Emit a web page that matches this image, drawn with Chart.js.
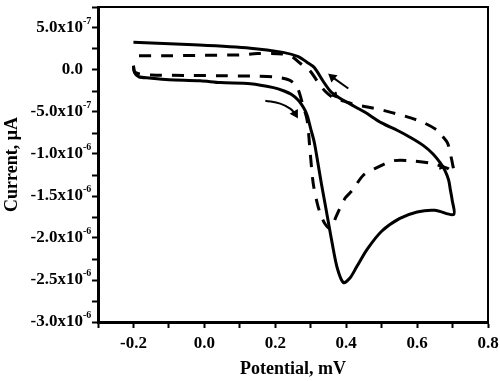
<!DOCTYPE html>
<html lang="en">
<head>
    <meta charset="UTF-8">
    <title>Cyclic Voltammogram</title>
    <style>
        html, body {
            margin: 0;
            padding: 0;
            background: #fff;
        }

        .chart-box {
            width: 500px;
            height: 381px;
        }
    </style>
</head>
<body>
<div class="chart-box">
    <canvas id="cvChart"></canvas>
</div>

<script src="https://cdn.jsdelivr.net/npm/chart.js"></script>
<script>
    // Solid curve (potential in mV, current in uA as printed on the axis)
    const solidPotential = [
        -0.200, -0.197, -0.185, -0.155, -0.100, -0.012, 0.045, 0.130, 0.195, 0.225,
        0.245, 0.265, 0.280, 0.290, 0.300, 0.310, 0.320, 0.330, 0.345, 0.360,
        0.375, 0.392, 0.410, 0.430, 0.460, 0.500, 0.550, 0.600, 0.650, 0.703,
        0.699, 0.694, 0.689, 0.679, 0.666, 0.645, 0.618, 0.580, 0.545, 0.500,
        0.452, 0.426, 0.405, 0.380, 0.357, 0.336, 0.310, 0.290, 0.265, 0.222,
        0.130, -0.030, -0.200
    ];
    const solidCurrent = [
        0.5e-7, -0.3e-7, -0.8e-7, -0.95e-7, -1.15e-7, -1.27e-7, -1.5e-7, -1.63e-7, -2.1e-7, -2.5e-7,
        -2.9e-7, -3.6e-7, -4.5e-7, -5.4e-7, -7.0e-7, -8.6e-7, -11.0e-7, -13.5e-7, -17.0e-7, -20.5e-7,
        -23.6e-7, -25.3e-7, -24.8e-7, -23.4e-7, -21.3e-7, -19.2e-7, -17.7e-7, -16.9e-7, -16.7e-7, -17.2e-7,
        -15.5e-7, -14.3e-7, -13.1e-7, -12.0e-7, -11.1e-7, -10.0e-7, -9.0e-7, -8.0e-7, -7.2e-7, -6.3e-7,
        -5.0e-7, -4.4e-7, -3.9e-7, -3.3e-7, -2.6e-7, -1.4e-7, 0.3e-7, 0.9e-7, 1.6e-7, 2.1e-7,
        2.6e-7, 3.0e-7, 3.3e-7
    ];

    // Dashed curve
    const dashedPotential = [
        -0.200, -0.197, -0.185, -0.150, -0.050, 0.050, 0.150, 0.200, 0.240, 0.262,
        0.278, 0.290, 0.298, 0.307, 0.318, 0.327, 0.340, 0.356, 0.370, 0.384,
        0.398, 0.418, 0.449, 0.488, 0.534, 0.582, 0.638, 0.686, 0.703,
        0.700, 0.695, 0.686, 0.670, 0.658, 0.620, 0.582, 0.540, 0.505, 0.460,
        0.432, 0.400, 0.364, 0.340, 0.318, 0.298, 0.270, 0.250, 0.220, 0.150,
        0.100, 0.000, -0.100, -0.200
    ];
    const dashedCurrent = [
        0.5e-7, -0.2e-7, -0.45e-7, -0.6e-7, -0.65e-7, -0.68e-7, -0.75e-7, -0.85e-7, -1.2e-7, -2.1e-7,
        -4.2e-7, -6.0e-7, -9.6e-7, -13.5e-7, -15.8e-7, -17.1e-7, -18.3e-7, -18.9e-7, -17.6e-7, -16.3e-7,
        -15.2e-7, -14.3e-7, -12.5e-7, -11.6e-7, -10.8e-7, -10.8e-7, -11.1e-7, -11.7e-7, -12.2e-7,
        -11.2e-7, -10.2e-7, -8.7e-7, -7.8e-7, -7.2e-7, -6.3e-7, -5.7e-7, -5.2e-7, -4.8e-7, -4.4e-7,
        -4.2e-7, -3.8e-7, -3.3e-7, -2.5e-7, -1.3e-7, -0.1e-7, 0.8e-7, 1.5e-7, 1.9e-7, 1.95e-7,
        1.8e-7, 1.75e-7, 1.7e-7, 1.7e-7
    ];

    // Scan direction arrows
    const arrowDownPotential = [0.172, 0.214, 0.242, 0.256];
    const arrowDownCurrent = [-3.65e-7, -4.0e-7, -4.6e-7, -5.2e-7];
    const arrowUpPotential = [0.406, 0.361];
    const arrowUpCurrent = [-2.2e-7, -0.85e-7];
    // small arrowheads sitting on the curves
    const headPotential = [0.368, 0.670];
    const headCurrent = [-3.0e-7, -11.5e-7];
    const headRotation = [140, 100];

    const xMin = -0.3, xMax = 0.8, xStep = 0.1;
    const yMin = -3.0e-6, yMax = 7.5e-7, yStep = 2.5e-7;

    function zip(xs, ys) {
        return xs.map((x, i) => ({x: x, y: ys[i]}));
    }

    function lastOnly(n, value) {
        return Array.from({length: n}, (_, i) => i === n - 1 ? value : 0);
    }

    const serif = "'Liberation Serif', 'Times New Roman', serif";

    function yExponent(v) {
        return Math.floor(Math.log10(Math.abs(v)) + 1e-9);
    }

    // draws the top/right frame and the superscript part of the y tick labels
    const framePlugin = {
        id: 'frame',
        afterDraw(chart) {
            const ctx = chart.ctx;
            const a = chart.chartArea;
            ctx.save();
            ctx.strokeStyle = '#000';
            ctx.lineWidth = 2;
            ctx.beginPath();
            ctx.moveTo(a.left, a.top);
            ctx.lineTo(a.right, a.top);
            ctx.lineTo(a.right, a.bottom);
            ctx.stroke();

            const yScale = chart.scales.y;
            ctx.fillStyle = '#000';
            ctx.font = 'bold 10px ' + serif;
            ctx.textAlign = 'left';
            ctx.textBaseline = 'middle';
            yScale.ticks.forEach(t => {
                const k = Math.round(t.value / yStep);
                if (k % 2 !== 0 || k === 0) return;
                const py = yScale.getPixelForValue(t.value);
                ctx.fillText(String(yExponent(t.value)), a.left - 15, py - 7);
            });
            ctx.restore();
        }
    };

    new Chart(document.getElementById('cvChart').getContext('2d'), {
        type: 'scatter',
        data: {
            datasets: [{
                label: 'Solid',
                data: zip(solidPotential, solidCurrent),
                showLine: true,
                borderColor: '#000',
                borderWidth: 3,
                pointRadius: 0,
                tension: 0.3
            }, {
                label: 'Dashed',
                data: zip(dashedPotential, dashedCurrent),
                showLine: true,
                borderColor: '#000',
                borderWidth: 3,
                borderDash: [12, 10],
                pointRadius: 0,
                tension: 0.3
            }, {
                label: 'Arrow down',
                data: zip(arrowDownPotential, arrowDownCurrent),
                showLine: true,
                borderColor: '#000',
                backgroundColor: '#000',
                borderWidth: 2,
                pointStyle: 'triangle',
                pointRadius: lastOnly(arrowDownPotential.length, 3.5),
                pointRotation: 150,
                tension: 0.4
            }, {
                label: 'Arrow up',
                data: zip(arrowUpPotential, arrowUpCurrent),
                showLine: true,
                borderColor: '#000',
                backgroundColor: '#000',
                borderWidth: 2,
                pointStyle: 'triangle',
                pointRadius: lastOnly(arrowUpPotential.length, 3.5),
                pointRotation: -50
            }, {
                label: 'Heads',
                data: zip(headPotential, headCurrent),
                showLine: false,
                borderColor: '#000',
                backgroundColor: '#000',
                pointStyle: 'triangle',
                pointRadius: 3.5,
                pointRotation: headRotation
            }]
        },
        options: {
            responsive: true,
            maintainAspectRatio: false,
            animation: false,
            layout: {
                padding: {left: 0, right: 12, top: 7, bottom: 0}
            },
            plugins: {
                legend: {display: false},
                tooltip: {enabled: false}
            },
            scales: {
                x: {
                    type: 'linear',
                    min: xMin,
                    max: xMax,
                    afterFit: s => {
                        s.height = 59;
                        s.paddingLeft = 0;
                        s.paddingRight = 0;
                    },
                    border: {display: true, color: '#000', width: 3},
                    grid: {
                        drawOnChartArea: false,
                        drawTicks: true,
                        tickLength: 6,
                        tickWidth: 2,
                        color: '#000'
                    },
                    ticks: {
                        stepSize: xStep,
                        autoSkip: false,
                        maxRotation: 0,
                        padding: 5,
                        color: '#000',
                        font: {family: serif, size: 17, weight: 'bold'},
                        callback: v => {
                            const k = Math.round(v / xStep);
                            return k % 2 === 0 ? (k / 10).toFixed(1) : '';
                        }
                    },
                    title: {
                        display: true,
                        text: 'Potential, mV',
                        color: '#000',
                        font: {family: serif, size: 18, weight: 'bold', lineHeight: 1.2},
                        padding: {top: 0, bottom: 1}
                    }
                },
                y: {
                    type: 'linear',
                    min: yMin,
                    max: yMax,
                    afterFit: s => {
                        s.width = 98;
                        s.paddingTop = 0;
                        s.paddingBottom = 0;
                    },
                    border: {display: true, color: '#000', width: 3},
                    grid: {
                        drawOnChartArea: false,
                        drawTicks: true,
                        tickLength: 6,
                        tickWidth: 2,
                        color: '#000'
                    },
                    ticks: {
                        stepSize: yStep,
                        autoSkip: false,
                        padding: 9,
                        color: '#000',
                        font: {family: serif, size: 17, weight: 'bold'},
                        callback: v => {
                            const k = Math.round(v / yStep);
                            if (k % 2 !== 0) return '';
                            if (k === 0) return '0.0';
                            const e = yExponent(v);
                            return (v / Math.pow(10, e)).toFixed(1) + 'x10';
                        }
                    },
                    title: {
                        display: true,
                        text: 'Current, \u03BCA',
                        color: '#000',
                        font: {family: serif, size: 18, weight: 'bold', lineHeight: 1.2},
                        padding: {top: 2, bottom: 0}
                    }
                }
            }
        },
        plugins: [framePlugin]
    });
</script>
</body>
</html>
